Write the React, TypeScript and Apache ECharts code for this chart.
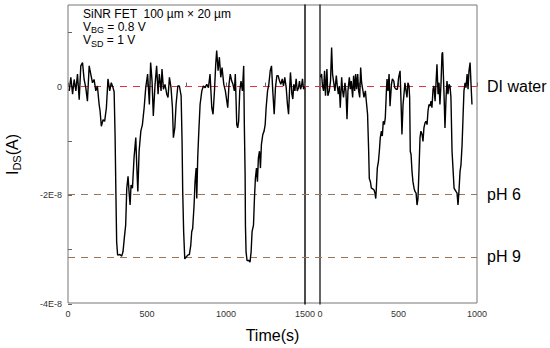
import React, { useEffect, useRef } from "react";
import * as echarts from "echarts";

// Time (s) and I_DS (in units of 1E-8 A), left segment 0-1500 s
const timeLeft = [
  8, 18, 29, 39, 50, 60, 71, 81, 92, 102, 113, 123, 134, 144, 155, 165, 176, 186, 197, 203,
  211, 222, 232, 243, 253, 264, 274, 285, 292, 298, 303, 308, 314, 329, 340, 348, 357, 365, 372, 380,
  387, 393, 399, 408, 418, 429, 435, 442, 450, 461, 471, 482, 492, 504, 515, 523, 532, 540, 551, 561,
  570, 578, 589, 595, 604, 614, 625, 633, 642, 652, 661, 667, 676, 684, 695, 705, 716, 722, 726, 732,
  739, 747, 758, 768, 777, 783, 789, 798, 804, 811, 815, 821, 828, 836, 847, 857, 868, 878, 889, 899,
  910, 918, 927, 935, 941, 950, 958, 967, 975, 986, 996, 1011, 1019, 1027, 1036, 1044, 1053, 1059, 1068, 1074,
  1080, 1087, 1095, 1104, 1112, 1116, 1121, 1123, 1127, 1133, 1144, 1152, 1159, 1165, 1174, 1180, 1186, 1193, 1199, 1205,
  1212, 1218, 1224, 1233, 1241, 1248, 1254, 1263, 1271, 1280, 1288, 1296, 1305, 1313, 1322, 1330, 1339, 1347, 1356, 1364,
  1372, 1381, 1389, 1396, 1402, 1408, 1417, 1423, 1429, 1436, 1444, 1451, 1459, 1465, 1472, 1478, 1484, 1491, 1495,
];
const currentLeft = [
  -0.08, 0.17, -0.14, 0.13, -0.08, 0.23, -0.24, 0.38, 0.44, 0.13, -0.03, -0.27, 0.38, 0.23, 0.07, 0.13, -0.08, 0.01, -0.33, -0.45,
  -0.73, -0.61, -0.64, -0.39, 0.14, -0.08, 0.07, -0.02, -0.1, -0.9, -1.93, -2.86, -3.1, -3.09, -3.12, -3.04, -2.77, -2.55, -1.87, -1.65,
  -1.96, -2.18, -1.81, -1.87, -1.31, -0.94, -1.44, -1.93, -1.19, -0.82, -0.7, -0.39, -0.02, 0.23, -0.33, 0.44, 0.1, -0.54, 0.04, 0.38,
  -0.14, 0.23, -0.08, 0.32, -0.05, 0.04, -0.14, -0.2, 0.17, -0.02, -0.39, -0.94, -0.76, -0.33, 0.01, 0.01, -0.17, -1.01, -1.93, -2.67,
  -3.17, -3.14, -3.1, -3.09, -2.92, -2.67, -2.61, -2.18, -1.75, -1.5, -2.06, -1.31, -0.82, -0.33, -0.08, 0.01, -0.02, 0.04, -0.02, 0.23,
  -0.39, -0.51, -0.08, 0.41, 0.66, 0.29, 0.54, 0.17, 0.35, 0.04, -0.08, -0.39, 0.04, 0.23, 0.1, 0.04, -0.08, 0.23, -0.7, -0.76,
  -0.64, -0.08, 0.1, -0.08, 0.38, -0.7, -1.62, -2.55, -3.04, -3.2, -3.2, -3.23, -3.04, -2.67, -2.55, -2.06, -1.69, -1.5, -1.75, -1.31,
  -1.19, -1.5, -1.07, -0.88, -0.82, -0.7, -0.39, -0.08, 0.04, 0.29, 0.38, -0.08, -0.51, -0.02, 0.2, 0.2, 0.1, 0.04, 0.14, 0.01,
  0.17, -0.02, -0.33, -0.51, -0.08, 0.26, -0.14, -0.23, 0.04, -0.08, 0.14, -0.08, -0.02, 0.1, -0.05, 0.01, 0.14, -0.05, 0.01,
];

// Right segment 0-1000 s
const timeRight = [
  3, 10, 16, 23, 29, 35, 44, 50, 59, 67, 74, 80, 89, 95, 104, 110, 117, 123, 129, 138,
  144, 150, 159, 165, 172, 178, 187, 193, 199, 208, 214, 221, 227, 233, 240, 246, 253, 259, 265, 272,
  280, 289, 297, 303, 310, 314, 321, 327, 335, 344, 350, 355, 359, 365, 372, 378, 384, 391, 397, 403,
  410, 416, 423, 427, 433, 440, 446, 455, 461, 470, 476, 485, 493, 501, 510, 516, 522, 529, 535, 541,
  548, 554, 560, 567, 571, 575, 580, 586, 592, 599, 605, 612, 618, 624, 631, 637, 643, 650, 656, 662,
  669, 675, 682, 688, 694, 701, 707, 713, 720, 726, 733, 739, 745, 752, 758, 764, 771, 777, 781, 790,
  796, 803, 809, 815, 822, 828, 834, 841, 847, 854, 860, 866, 873, 879, 885, 892, 898, 905, 911, 917,
  924, 930, 937, 943, 949, 956, 962, 968,
];
const currentRight = [
  0.17, 0.23, 0.01, -0.08, 0.29, -0.17, 0.32, -0.17, -0.08, 0.1, 0.72, 0.23, 0.04, -0.08, 0.2, 0.01, -0.14, 0.01, -0.39, 0.17,
  -0.08, -0.2, 0.07, -0.08, -0.6, -0.08, 0.17, -0.05, 0.1, -0.2, 0.2, -0.08, 0.23, -0.05, 0.23, -0.08, -0.2, 0.35, 0.07, -0.05,
  -0.2, -0.08, -0.33, -0.51, -1.19, -1.69, -1.75, -1.87, -1.88, -1.9, -1.96, -2.06, -1.87, -1.5, -1.38, -1.19, -0.94, -0.82, -0.91, -0.64,
  -0.7, -0.57, -0.08, 0.14, -0.08, 0.23, -0.36, 0.04, 0.14, 0.1, -0.02, -0.05, -0.05, 0.17, 0.29, -0.27, -0.88, -0.33, -0.14, 0.07,
  -0.08, -0.2, 0.07, 0.01, -0.2, -1.19, -1.25, -1.56, -1.75, -1.87, -1.93, -1.96, -2.18, -2.06, -1.5, -0.94, -0.82, -0.88, -1.01, -0.76,
  -0.67, -0.64, -0.7, -0.45, -0.33, -0.36, -0.27, -0.39, -0.05, 0.01, -0.27, 0.07, 0.41, -0.14, 0.07, -0.33, 0.07, 0.6, 0.63, -0.14,
  -0.76, -0.2, 0.1, -0.14, 0.04, 0.01, -0.2, -1.19, -1.5, -1.87, -1.9, -1.93, -1.96, -2.18, -1.93, -1.56, -1.44, -1.07, -0.57, -0.08,
  0.07, -0.02, 0.23, -0.05, 0.29, 0.44, 0.04, -0.33,
];

// Reference levels (1E-8 A)
const levelNames = ["DI water", "pH 6", "pH 9"];
const levelValues = [0, -2, -3.15];
const levelColors = ["#e2323c", "#9a7656", "#9a7656"];

const yMin = -4;
const yMax = 1.5;

const FONT = "'Liberation Sans', Arial, sans-serif";

export default function App() {
  const ref = useRef<HTMLDivElement>(null);

  useEffect(() => {
    if (!ref.current) return;
    const chart = echarts.init(ref.current, undefined, { renderer: "svg" });

    const leftData = timeLeft.map((t, i) => [t, currentLeft[i]]);
    const rightData = timeRight.map((t, i) => [t, currentRight[i]]);

    const tickStyle = { show: true, inside: true, length: 4, lineStyle: { color: "#666", width: 1 } };
    const xLabel = {
      show: true,
      fontSize: 9,
      color: "#333",
      fontFamily: FONT,
      margin: 5,
      formatter: (v: number) => (v % 500 === 0 ? String(v) : ""),
    };

    const option: any = {
      animation: false,
      textStyle: { fontFamily: FONT },
      grid: [
        { left: 68, top: 5, width: 237, height: 299, containLabel: false },
        { left: 320, top: 5, width: 157, height: 299, containLabel: false },
        { left: 68, top: 5, width: 409, height: 299, containLabel: false, show: true, borderColor: "#777", borderWidth: 1, backgroundColor: "transparent" },
      ],
      xAxis: [
        {
          type: "value", gridIndex: 0, min: 0, max: 1500, interval: 250,
          axisLine: { show: false }, axisTick: tickStyle, splitLine: { show: false },
          axisLabel: xLabel,
        },
        {
          type: "value", gridIndex: 1, min: 0, max: 1000, interval: 250,
          axisLine: { show: false }, axisTick: tickStyle, splitLine: { show: false },
          axisLabel: xLabel,
        },
        {
          type: "value", gridIndex: 2, min: 0, max: 1,
          axisLine: { show: false }, axisTick: { show: false }, axisLabel: { show: false }, splitLine: { show: false },
          name: "Time(s)", nameLocation: "middle", nameGap: 24,
          nameTextStyle: { fontSize: 16, color: "#000", fontFamily: FONT },
        },
      ],
      yAxis: [
        {
          type: "value", gridIndex: 0, min: yMin, max: yMax, interval: 1,
          axisLine: { show: false }, axisTick: tickStyle, splitLine: { show: false },
          axisLabel: {
            fontSize: 9, color: "#333", fontFamily: FONT, margin: 6, showMaxLabel: false,
            formatter: (v: number) => (v === 0 ? "0" : v % 2 === 0 ? `${v}E-8` : ""),
          },
          name: "{i|I}{s|DS}{i|(A)}",
          nameLocation: "middle",
          nameRotate: 90,
          nameGap: 46,
          nameTextStyle: {
            rich: {
              i: { fontSize: 16, lineHeight: 20, color: "#000", fontFamily: FONT, verticalAlign: "middle" },
              s: { fontSize: 11, lineHeight: 12, color: "#000", fontFamily: FONT, verticalAlign: "bottom" },
            },
          },
        },
        {
          type: "value", gridIndex: 0, min: yMin, max: yMax, position: "right",
          axisLine: { show: true, lineStyle: { color: "#111", width: 1.5 } },
          axisTick: { show: false }, axisLabel: { show: false }, splitLine: { show: false },
        },
        {
          type: "value", gridIndex: 1, min: yMin, max: yMax, position: "left",
          axisLine: { show: true, lineStyle: { color: "#333", width: 1.5 } },
          axisTick: { show: false }, axisLabel: { show: false }, splitLine: { show: false },
        },
        {
          type: "value", gridIndex: 2, min: yMin, max: yMax,
          axisLine: { show: false }, axisTick: { show: false }, axisLabel: { show: false }, splitLine: { show: false },
        },
      ],
      series: [
        {
          type: "line", xAxisIndex: 2, yAxisIndex: 3, data: [[0, 0], [1, 0]],
          showSymbol: false, symbol: "none", lineStyle: { opacity: 0 }, silent: true, z: 1,
          markLine: {
            silent: true,
            symbol: ["none", "none"],
            animation: false,
            data: levelValues.map((v, i) => ({
              yAxis: v,
              name: levelNames[i],
              lineStyle: { color: levelColors[i], type: [7, 6], width: 1 },
              label: {
                show: true, position: "end", distance: 10, formatter: "{b}",
                fontSize: 16, color: "#000", fontFamily: FONT,
              },
            })),
          },
        },
        {
          type: "line", xAxisIndex: 0, yAxisIndex: 0, data: leftData,
          showSymbol: false, symbol: "none", z: 5,
          lineStyle: { color: "#000", width: 1.4 },
        },
        {
          type: "line", xAxisIndex: 1, yAxisIndex: 2, data: rightData,
          showSymbol: false, symbol: "none", z: 5,
          lineStyle: { color: "#000", width: 1.4 },
        },
      ],
      graphic: [
        {
          type: "text", left: 83, top: 7.5,
          style: {
            text: "{n|SiNR FET  100 µm × 20 µm}",
            rich: { n: { fontSize: 12, lineHeight: 16, fill: "#000", fontFamily: FONT } },
          },
        },
        {
          type: "text", left: 83, top: 20.5,
          style: {
            text: "{n|V}{s|BG}{n| = 0.8 V}",
            rich: {
              n: { fontSize: 12, lineHeight: 16, fill: "#000", fontFamily: FONT, verticalAlign: "middle" },
              s: { fontSize: 9, lineHeight: 10, fill: "#000", fontFamily: FONT, verticalAlign: "bottom" },
            },
          },
        },
        {
          type: "text", left: 83, top: 34,
          style: {
            text: "{n|V}{s|SD}{n| = 1 V}",
            rich: {
              n: { fontSize: 12, lineHeight: 16, fill: "#000", fontFamily: FONT, verticalAlign: "middle" },
              s: { fontSize: 9, lineHeight: 10, fill: "#000", fontFamily: FONT, verticalAlign: "bottom" },
            },
          },
        },
      ],
    };

    chart.setOption(option);
    return () => chart.dispose();
  }, []);

  return (
    <div
      ref={ref}
      style={{ position: "fixed", left: 0, top: 0, width: 550, height: 348, background: "#fff" }}
    />
  );
}
